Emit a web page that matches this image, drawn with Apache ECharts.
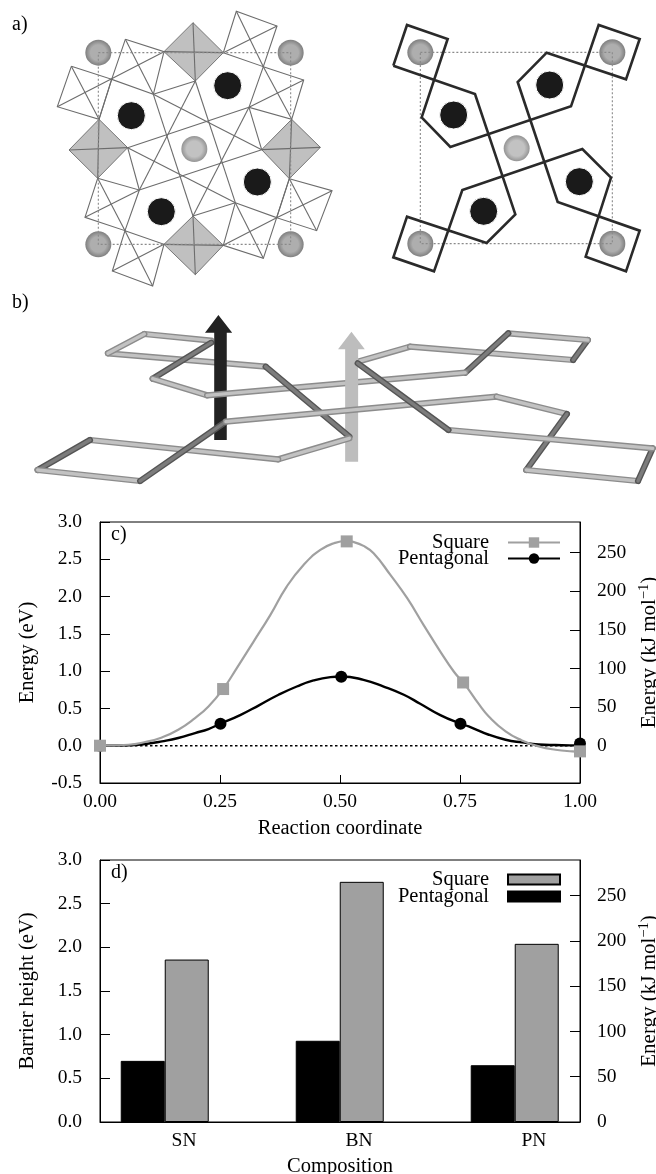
<!DOCTYPE html>
<html><head><meta charset="utf-8">
<style>html,body{margin:0;padding:0;background:#fff}#c{width:656px;height:1174px}</style>
<script src="https://cdn.jsdelivr.net/npm/echarts@6/dist/echarts.min.js"></script>
</head><body><div id="c"></div>
<script>
// ---------- panel c: reaction profile (x = reaction coordinate, y = eV)
const squareCurve = [[0,0],[0.059,0.013],[0.094,0.05],[0.129,0.111],[0.163,0.214],[0.198,0.371],[0.226,0.526],[0.2565,0.76],[0.285,1.041],[0.32,1.397],[0.355,1.755],[0.389,2.134],[0.424,2.424],[0.459,2.625],[0.487,2.715],[0.514,2.745],[0.525,2.736],[0.549,2.68],[0.57,2.58],[0.605,2.29],[0.64,1.978],[0.674,1.621],[0.709,1.263],[0.737,0.995],[0.7565,0.848],[0.765,0.78],[0.789,0.56],[0.81,0.392],[0.845,0.192],[0.879,0.071],[0.914,-0.009],[0.949,-0.054],[0.984,-0.076],[1,-0.08]];
const pentagonalCurve = [[0,0],[0.059,0.004],[0.094,0.023],[0.129,0.058],[0.163,0.103],[0.198,0.17],[0.226,0.224],[0.251,0.295],[0.292,0.41],[0.332,0.545],[0.372,0.683],[0.41,0.794],[0.445,0.875],[0.48,0.92],[0.5026,0.928],[0.549,0.884],[0.591,0.794],[0.633,0.683],[0.667,0.563],[0.709,0.41],[0.751,0.295],[0.768,0.259],[0.81,0.147],[0.845,0.08],[0.879,0.044],[0.914,0.017],[0.949,0.009],[0.997,0.004],[1,0.01]];
const squarePoints = [[0,0],[0.2565,0.76],[0.514,2.74],[0.7565,0.848],[1,-0.076]];
const pentagonalPoints = [[0,0],[0.251,0.295],[0.5026,0.925],[0.751,0.295],[1,0.03]];
const zeroLine = [[0,0],[1,0]];
const kjTicks = [0,50,100,150,200,250];

// ---------- panel d: barrier heights
const compositions = ['SN','BN','PN'];
const barrierSquare = [1.86,2.75,2.04];
const barrierPentagonal = [0.7,0.93,0.65];

// ---------- panel a: structure drawings, in each drawing's own units
const aDiamonds = [
 [[579,68],[670,158],[586,243],[492,155]],
 [[297,358],[383,443],[293,535],[207,450]],
 [[875,358],[961,442],[868,536],[785,449]],
 [[579,648],[670,736],[586,824],[492,733]]];
const aWireLines = [
 [[579,68],[586,243]],[[492,155],[670,158]],[[297,358],[293,535]],[[207,450],[383,443]],
 [[875,358],[868,536]],[[785,449],[961,442]],[[579,648],[586,824]],[[492,733],[670,736]],
 [[670,158],[709,34],[831,78],[790,200],[670,158]],[[709,34],[790,200]],[[831,78],[670,158]],
 [[376,118],[492,155],[460,283],[335,238],[376,118]],[[376,118],[460,283]],[[492,155],[172,320]],
 [[214,199],[335,238],[297,358],[172,320],[214,199]],[[214,199],[297,358]],
 [[790,200],[911,240],[875,358],[747,322],[790,200]],[[790,200],[875,358]],[[911,240],[747,322]],
 [[293,535],[418,570],[375,692],[255,652],[293,535]],[[293,535],[375,692]],[[418,570],[255,652]],
 [[375,692],[492,733],[458,858],[337,813],[375,692]],[[375,692],[458,858]],[[492,733],[337,813]],
 [[706,608],[830,653],[790,775],[670,736],[706,608]],[[706,608],[790,775]],[[830,653],[670,736]],
 [[868,536],[996,572],[950,692],[830,653],[868,536]],[[868,536],[950,692]],[[996,572],[830,653]],
 [[460,283],[579,648]],[[586,243],[418,570]],[[747,322],[579,648]],[[586,243],[706,608]],
 [[460,283],[785,449]],[[383,443],[706,608]],[[383,443],[747,322]],[[418,570],[785,449]],
 [[460,283],[586,243]],[[383,443],[418,570]],[[747,322],[785,449]],[[579,648],[706,608]],
 [[297,358],[335,238]],[[830,653],[868,536]]];
const aFrameLeft = [[295,158],[872,158],[872,733],[295,733],[295,158]];
const aGrayLeft = [[295,158],[872,158],[295,733],[872,733]];
const aCenterLeft = [[583,447]];
const aBlackLeft = [[394,347],[683,257],[772,546],[484,635]];

const aOutline = [
 [[160,197],[201,75],[323,117],[245,352],[331,441],[693,319],[776,75],[899,117],[858,238],[620,158],[533,246],[653,606],[899,692],[858,814],[737,770],[813,533],[727,447],[367,570],[282,814],[160,772],[201,650],[440,729],[526,643],[405,282],[160,197]]];
const aFrameRight = [[241,157],[817,157],[817,731],[241,731],[241,157]];
const aGrayRight = [[241,157],[817,157],[241,731],[817,731]];
const aCenterRight = [[530,445]];
const aBlackRight = [[341,345],[629,255],[718,545],[431,634]];

// ---------- panel b: perspective view; [x1,y1,x2,y2,dark?]
const bTubesBack = [[258,190,635,230,0],[345,132,505,152,0],[258,190,345,132,0],[505,158,365,266,1],[365,266,495,316,0],[855,215,980,170,0],[980,170,1370,210,0],[1370,210,1405,150,1],[1405,150,1215,130,0],[1215,130,1112,248,1]];
const bTubesMid = [[495,316,1112,248,0]];
const bTubesFront = [[635,230,835,440,1],[835,445,665,508,0],[665,508,215,450,0],[215,450,90,540,1],[90,540,335,573,0],[335,573,540,395,1],[540,395,1187,320,0],[1187,320,1355,372,0],[1355,372,1258,540,1],[1258,540,1525,573,0],[1525,573,1560,475,1],[1560,475,1072,420,0],[1072,420,855,220,1]];
const bBlackArrow = [[[512,450],[542,450],[542,128],[555,128],[522,75],[490,128],[512,128]]];
const bGrayArrow = [[[825,515],[856,515],[856,178],[872,178],[840,125],[808,178],[825,178]]];

// ---------- panel captions
const captions = [['a)',12,25],['b)',12,303],['c)',111,535],['d)',111,873]];

const FONT = '"Liberation Serif", serif';
const GRAY = '#a0a0a0';
const EV_TO_KJ = 96.485;
const tick = {fontFamily: FONT, fontSize: 19.5, color: '#000'};
const txt = {fontFamily: FONT, fontSize: 20.5, color: '#000'};

function hiddenX(i, max){ return {gridIndex:i, type:'value', min:0, max:max, show:false}; }
function hiddenY(i, max){ return {gridIndex:i, type:'value', min:0, max:max, inverse:true, show:false}; }

function shapes(axis, list, style, closed, z){
  return {type:'custom', coordinateSystem:'cartesian2d', xAxisIndex:axis, yAxisIndex:axis, z:z, silent:true,
    clip:false, data:list.map((p,i)=>[i,i]), encode:{x:0,y:1},
    renderItem:(params,api)=>({type:closed?'polygon':'polyline',
      shape:{points:list[params.dataIndex].map(q=>api.coord(q))}, style:Object.assign({},style)})};
}
function tubes(axis, list, z){
  return {type:'custom', coordinateSystem:'cartesian2d', xAxisIndex:axis, yAxisIndex:axis, z:z, silent:true,
    clip:false, data:list.map((p,i)=>[i,i]), encode:{x:0,y:1},
    renderItem:(params,api)=>{
      const t=list[params.dataIndex], a=api.coord([t[0],t[1]]), b=api.coord([t[2],t[3]]);
      return {type:'group',children:[
        {type:'polyline',shape:{points:[a,b]},style:{fill:null,stroke:t[4]?'#555':'#8c8c8c',lineWidth:6.2,lineCap:'round'}},
        {type:'polyline',shape:{points:[a,b]},style:{fill:null,stroke:t[4]?'#7c7c7c':'#c2c2c2',lineWidth:3.4,lineCap:'round'}}]};
    }};
}
function ball(c0,c1){ return {type:'radial',x:0.5,y:0.5,r:0.5,colorStops:[{offset:0,color:c0},{offset:0.6,color:c0},{offset:1,color:c1}]}; }
function atoms(axis,data,size,color,z,border){
  return {type:'scatter',xAxisIndex:axis,yAxisIndex:axis,data:data,symbol:'circle',symbolSize:size,
    itemStyle:{color:color,opacity:1,borderColor:'#fff',borderWidth:border?1:0},silent:true,z:z,clip:false};
}
function yLeft(grid,min,name){
  return {gridIndex:grid,type:'value',position:'left',min:min,max:3,interval:0.5,name:name,nameLocation:'middle',nameRotate:90,nameGap:62,
    nameTextStyle:txt,axisLine:{show:true,onZero:false,lineStyle:{color:'#000',width:1}},axisTick:{show:true,inside:true,length:10,lineStyle:{color:'#000'}},
    axisLabel:Object.assign({formatter:v=>v.toFixed(1),margin:18,showMinLabel:true,showMaxLabel:true},tick),splitLine:{show:false}};
}
function yRight(grid,min){
  return {gridIndex:grid,type:'value',position:'right',min:min*EV_TO_KJ,max:3*EV_TO_KJ,name:'{n|Energy (kJ mol}{s|−1}{n|)}',nameLocation:'middle',nameRotate:90,nameGap:56,
    nameTextStyle:{rich:{n:{fontFamily:FONT,fontSize:21,color:'#000',lineHeight:24},s:{fontFamily:FONT,fontSize:14.5,color:'#000',verticalAlign:'top',lineHeight:14}}},
    axisLine:{show:true,onZero:false,lineStyle:{color:'#000',width:1}},
    axisTick:{show:true,inside:true,length:10,customValues:kjTicks,lineStyle:{color:'#000'}},
    axisLabel:Object.assign({customValues:kjTicks,margin:17,formatter:v=>String(v)},tick),splitLine:{show:false}};
}

const option = {
  animation:false, backgroundColor:'#fff',
  textStyle:{fontFamily:FONT},
  grid:[
    {left:0,top:0,width:340,height:295,outerBoundsMode:'none'},
    {left:340,top:0,width:316,height:295,outerBoundsMode:'none'},
    {left:0,top:290,width:656,height:210,outerBoundsMode:'none'},
    {left:100,top:522,width:480,height:261,show:true,borderColor:'#000',borderWidth:1,outerBoundsMode:'none'},
    {left:100,top:860,width:480,height:262,show:true,borderColor:'#000',borderWidth:1,outerBoundsMode:'none'}
  ],
  xAxis:[hiddenX(0,1020),hiddenX(1,948),hiddenX(2,1568),
    {gridIndex:3,type:'value',min:0,max:1,interval:0.25,name:'Reaction coordinate',nameLocation:'middle',nameGap:35,nameTextStyle:txt,
     axisLine:{show:true,onZero:false,lineStyle:{color:'#000'}},axisTick:{show:true,inside:true,length:8,lineStyle:{color:'#000'}},
     axisLabel:Object.assign({formatter:v=>v.toFixed(2),margin:9},tick),splitLine:{show:false}},
    {gridIndex:4,type:'value',min:-0.48,max:2.263,name:'Composition',nameLocation:'middle',nameGap:34,nameTextStyle:txt,
     axisLine:{show:true,onZero:false,lineStyle:{color:'#000'}},axisTick:{show:false},
     axisLabel:Object.assign({customValues:[0,1,2],formatter:v=>compositions[v],margin:9},tick),splitLine:{show:false}}
  ],
  yAxis:[hiddenY(0,885),hiddenY(1,885),hiddenY(2,630),
    yLeft(3,-0.5,'Energy (eV)'),yRight(3,-0.5),
    yLeft(4,0,'Barrier height (eV)'),yRight(4,0)],
  legend:[
    {left:'auto',right:90,top:527,orient:'vertical',align:'right',itemWidth:52,itemHeight:13,itemGap:-5,
     textStyle:Object.assign({padding:[0,14,0,0]},txt),data:['Square','Pentagonal'],selectedMode:false},
    {left:'auto',right:90,top:864,orient:'vertical',align:'right',itemWidth:52,itemHeight:10,itemGap:-4,icon:'rect',
     textStyle:Object.assign({padding:[0,14,0,0]},txt),data:['Square bar','Pentagonal bar'],selectedMode:false,
     formatter:n=>n.replace(' bar','')}
  ],
  graphic:captions.map(c=>({type:'text',x:c[1],y:c[2],style:{text:c[0],font:'20px '+FONT,fill:'#000',textVerticalAlign:'middle'},z:50})),
  series:[
    // panel a, left
    shapes(0,aDiamonds,{fill:'#c0c0c0',stroke:'#777',lineWidth:1},true,1),
    shapes(0,aWireLines,{fill:null,stroke:'#6c6c6c',lineWidth:1.1},false,3),
    atoms(0,aGrayLeft,26,ball('#aeaeae','#7f7f7f'),4),
    atoms(0,aCenterLeft,26,ball('#c2c2c2','#949494'),4),
    atoms(0,aBlackLeft,28,'#1a1a1a',4,true),
    shapes(0,[aFrameLeft],{fill:null,stroke:'#8a8a8a',lineWidth:1.1,lineDash:[2,2]},false,5),
    // panel a, right
    atoms(1,aGrayRight,26,ball('#aeaeae','#7f7f7f'),3),
    atoms(1,aCenterRight,26,ball('#c2c2c2','#949494'),3),
    atoms(1,aBlackRight,28,'#1a1a1a',3,true),
    shapes(1,[aFrameRight],{fill:null,stroke:'#8a8a8a',lineWidth:1.1,lineDash:[2,2]},false,4),
    shapes(1,aOutline,{fill:null,stroke:'#2a2a2a',lineWidth:2.6,lineJoin:'miter'},false,5),
    // panel b
    tubes(2,bTubesBack,2),
    shapes(2,bBlackArrow,{fill:'#222',stroke:null},true,3),
    tubes(2,bTubesMid,4),
    shapes(2,bGrayArrow,{fill:'#bdbdbd',stroke:null},true,5),
    tubes(2,bTubesFront,6),
    // panel c
    {type:'line',name:'zero',xAxisIndex:3,yAxisIndex:3,data:zeroLine,symbol:'none',silent:true,z:2,
     lineStyle:{color:'#000',width:1.5,type:[2.5,2.5]}},
    {type:'line',name:'Pentagonal',xAxisIndex:3,yAxisIndex:3,smooth:0.5,symbol:'circle',symbolSize:12,showSymbol:true,showAllSymbol:true,clip:false,z:3,
     data:pentagonalCurve.map(p=>({value:p,symbol:'none'})),lineStyle:{color:'#000',width:2.4},itemStyle:{color:'#000'}},
    {type:'scatter',name:'Pentagonal points',xAxisIndex:3,yAxisIndex:3,data:pentagonalPoints,symbol:'circle',symbolSize:12,itemStyle:{color:'#000',opacity:1},clip:false,z:4},
    {type:'line',name:'Square',xAxisIndex:3,yAxisIndex:3,smooth:0.5,symbol:'rect',symbolSize:12,showSymbol:true,showAllSymbol:true,clip:false,z:5,
     data:squareCurve.map(p=>({value:p,symbol:'none'})),lineStyle:{color:GRAY,width:2.2},itemStyle:{color:GRAY}},
    {type:'scatter',name:'Square points',xAxisIndex:3,yAxisIndex:3,data:squarePoints,symbol:'rect',symbolSize:12,itemStyle:{color:GRAY,opacity:1},clip:false,z:6},
    // panel d
    {type:'bar',name:'Pentagonal bar',xAxisIndex:4,yAxisIndex:5,barWidth:44,barGap:'0%',z:3,
     data:barrierPentagonal.map((v,i)=>[i-0.11,v]),itemStyle:{color:'#000',borderColor:'#000',borderWidth:1}},
    {type:'bar',name:'Square bar',xAxisIndex:4,yAxisIndex:5,barWidth:44,barGap:'0%',z:3,
     data:barrierSquare.map((v,i)=>[i-0.11,v]),itemStyle:{color:GRAY,borderColor:'#000',borderWidth:1}}
  ]
};
echarts.init(document.getElementById('c'),null,{renderer:'canvas'}).setOption(option);
</script></body></html>
